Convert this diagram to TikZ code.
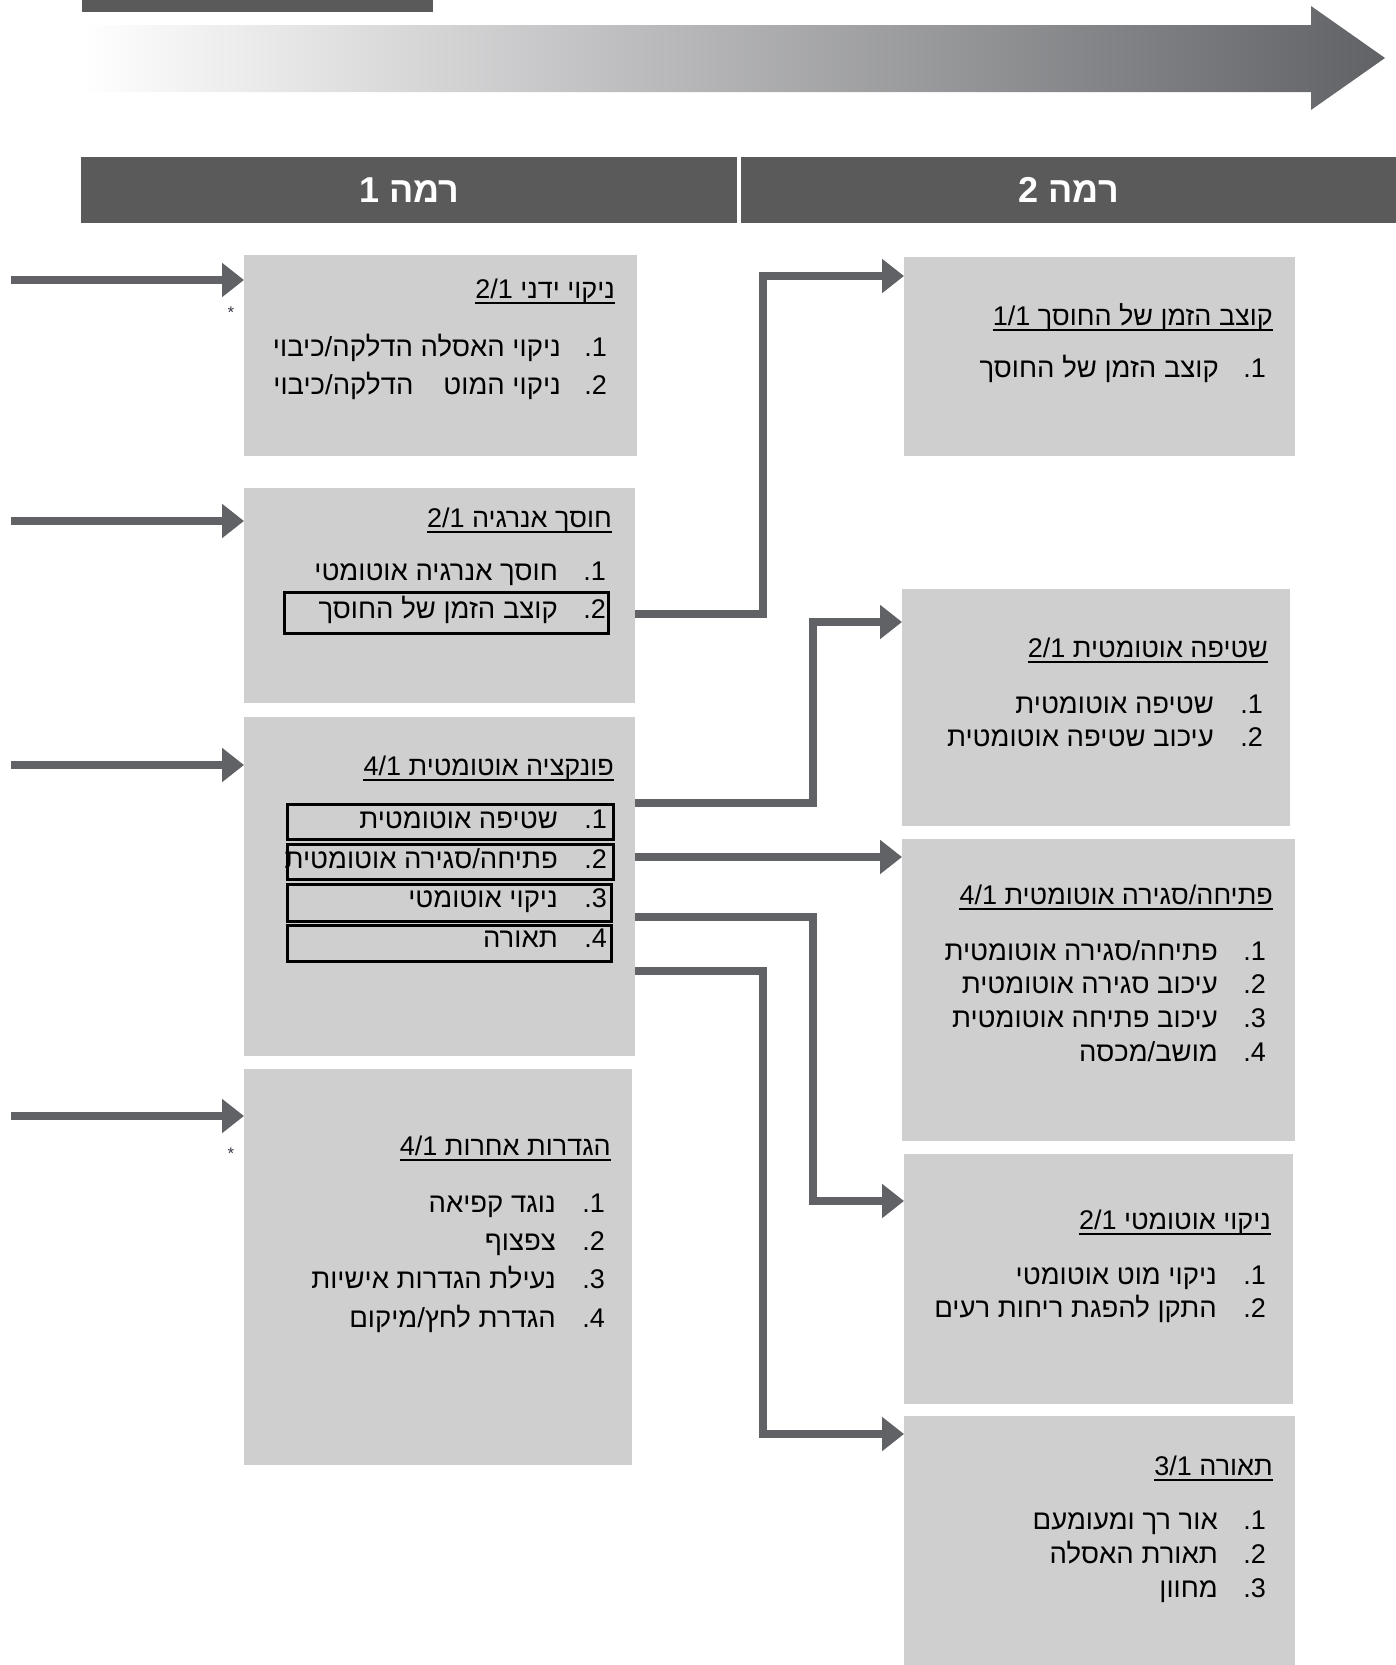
\documentclass[tikz,border=0pt]{standalone}
\usepackage{fontspec}
\setmainfont{Liberation Sans}
\newfontfamily\hb[Script=Hebrew]{Liberation Sans}
\TeXXeTstate=1
\usetikzlibrary{arrows.meta}
\definecolor{boxgray}{HTML}{D0CFD0}
\definecolor{linegray}{HTML}{616266}
\definecolor{headgray}{HTML}{5A5A5A}
\definecolor{midgray}{HTML}{C4C5C8}
\definecolor{stargray}{HTML}{3A3A4A}
\newcommand\hnum[1]{\beginL#1\endL}
\begin{document}
\begin{tikzpicture}[x=1pt,y=-1pt,
  box/.style={fill=boxgray, inner sep=0pt, anchor=north west},
  hdrbar/.style={fill=headgray, inner sep=0pt, anchor=north west, text=white, font=\hb\bfseries\fontsize{36}{40}\selectfont},
  conn/.style={draw=linegray, line width=7.5pt, -{Triangle[width=33pt,length=22pt]}, line join=miter},
  itm/.style={anchor=base east, inner sep=0pt, font=\hb\fontsize{27.5}{30}\selectfont},
  num/.style={anchor=base east, inner sep=0pt, font=\fontsize{27}{30}\selectfont},
  hd/.style={anchor=base east, inner sep=0pt, font=\hb\fontsize{27}{30}\selectfont},
  itembox/.style={draw=black, line width=2.5pt, inner sep=0pt, anchor=north west},
  uline/.style={line width=1.8pt},
  star/.style={inner sep=0pt, text=stargray, font=\fontsize{17}{17}\selectfont}
]
\useasboundingbox (0,0) rectangle (1396,1665);

% top bar and gradient arrow
\fill[headgray] (82,0) rectangle (433,12);
\shade[left color=white, middle color=midgray, right color=linegray]
  (82,25) -- (1311,25) -- (1311,6) -- (1385,58) -- (1311,110) -- (1311,92) -- (82,92) -- cycle;

% level headers
\node[hdrbar, minimum width=656pt, minimum height=66pt] (lvl1) at (81,157) {\beginR רמה 1\endR};
\node[hdrbar, minimum width=655pt, minimum height=66pt] (lvl2) at (741,157) {\beginR רמה 2\endR};

% left boxes
\node[box, minimum width=393pt, minimum height=201pt] (boxA) at (244,255) {};
\node[box, minimum width=391pt, minimum height=215pt] (boxB) at (244,488) {};
\node[box, minimum width=391pt, minimum height=339pt] (boxC) at (244,717) {};
\node[box, minimum width=388pt, minimum height=396pt] (boxD) at (244,1069) {};
% right boxes
\node[box, minimum width=391pt, minimum height=199pt] (boxE) at (904,257) {};
\node[box, minimum width=388pt, minimum height=237pt] (boxF) at (902,589) {};
\node[box, minimum width=393pt, minimum height=302pt] (boxG) at (902,839) {};
\node[box, minimum width=389pt, minimum height=250pt] (boxH) at (904,1154) {};
\node[box, minimum width=391pt, minimum height=249pt] (boxI) at (904,1416) {};

% incoming arrows on the left
\coordinate (inA) at (11,280);
\coordinate (inB) at (11,521);
\coordinate (inC) at (11,765);
\coordinate (inD) at (11,1116);
\draw[conn] (inA) -- (boxA.west |- inA);
\draw[conn] (inB) -- (boxB.west |- inB);
\draw[conn] (inC) -- (boxC.west |- inC);
\draw[conn] (inD) -- (boxD.west |- inD);
\node[star] (starA) at (231,313) {*};
\node[star] (starD) at (231,1154) {*};

% connectors between levels
\draw[conn] (boxB.east |- 0,614) -| (763,276) -- (boxE.west |- 0,276);
\draw[conn] (boxC.east |- 0,803) -| (813,622) -- (boxF.west |- 0,622);
\draw[conn] (boxC.east |- 0,857) -- (boxG.west |- 0,857);
\draw[conn] (boxC.east |- 0,917) -| (813,1201) -- (boxH.west |- 0,1201);
\draw[conn] (boxC.east |- 0,971) -| (763,1434) -- (boxI.west |- 0,1434);

% ---- Box A
\node[hd] (hA) at (615,298) {\beginR ניקוי ידני \hnum{2/1}\endR};
\draw[uline] ([yshift=-5pt]hA.base west) -- ([yshift=-5pt]hA.base east);
\node[num] (nA1) at (607,356) {.1};
\node[itm] (tA1) at (561,356) {\beginR ניקוי האסלה הדלקה/כיבוי\endR};
\node[num] (nA2) at (607,394) {.2};
\node[itm] (tA2) at (561,394) {\beginR ניקוי המוט\hspace{30pt}הדלקה/כיבוי\endR};

% ---- Box B
\node[hd] (hB) at (612,527) {\beginR חוסך אנרגיה \hnum{2/1}\endR};
\draw[uline] ([yshift=-5pt]hB.base west) -- ([yshift=-5pt]hB.base east);
\node[num] (nB1) at (606,580) {.1};
\node[itm] (tB1) at (558,580) {\beginR חוסך אנרגיה אוטומטי\endR};
\node[num] (nB2) at (606,618) {.2};
\node[itm] (tB2) at (558,618) {\beginR קוצב הזמן של החוסך\endR};
\node[itembox, minimum width=324pt, minimum height=41pt] (bB2) at (283,591) {};

% ---- Box C
\node[hd] (hC) at (614,775) {\beginR פונקציה אוטומטית \hnum{4/1}\endR};
\draw[uline] ([yshift=-5pt]hC.base west) -- ([yshift=-5pt]hC.base east);
\node[num] (nC1) at (607,828) {.1};
\node[itm] (tC1) at (558,828) {\beginR שטיפה אוטומטית\endR};
\node[num] (nC2) at (607,868) {.2};
\node[itm] (tC2) at (558,868) {\beginR פתיחה/סגירה אוטומטית\endR};
\node[num] (nC3) at (607,907) {.3};
\node[itm] (tC3) at (558,907) {\beginR ניקוי אוטומטי\endR};
\node[num] (nC4) at (607,947) {.4};
\node[itm] (tC4) at (558,947) {\beginR תאורה\endR};
\node[itembox, minimum width=326pt, minimum height=35pt] (bC1) at (286,803) {};
\node[itembox, minimum width=326pt, minimum height=35pt] (bC2) at (286,843) {};
\node[itembox, minimum width=324pt, minimum height=37pt] (bC3) at (286,883) {};
\node[itembox, minimum width=324pt, minimum height=36pt] (bC4) at (286,924) {};

% ---- Box D
\node[hd] (hD) at (611,1155) {\beginR הגדרות אחרות \hnum{4/1}\endR};
\draw[uline] ([yshift=-5pt]hD.base west) -- ([yshift=-5pt]hD.base east);
\node[num] (nD1) at (605,1212) {.1};
\node[itm] (tD1) at (556,1212) {\beginR נוגד קפיאה\endR};
\node[num] (nD2) at (605,1250) {.2};
\node[itm] (tD2) at (556,1250) {\beginR צפצוף\endR};
\node[num] (nD3) at (605,1288) {.3};
\node[itm] (tD3) at (556,1288) {\beginR נעילת הגדרות אישיות\endR};
\node[num] (nD4) at (605,1327) {.4};
\node[itm] (tD4) at (556,1327) {\beginR הגדרת לחץ/מיקום\endR};

% ---- Box E
\node[hd] (hE) at (1273,325) {\beginR קוצב הזמן של החוסך \hnum{1/1}\endR};
\draw[uline] ([yshift=-5pt]hE.base west) -- ([yshift=-5pt]hE.base east);
\node[num] (nE1) at (1266,377) {.1};
\node[itm] (tE1) at (1219,377) {\beginR קוצב הזמן של החוסך\endR};

% ---- Box F
\node[hd] (hF) at (1268,657) {\beginR שטיפה אוטומטית \hnum{2/1}\endR};
\draw[uline] ([yshift=-5pt]hF.base west) -- ([yshift=-5pt]hF.base east);
\node[num] (nF1) at (1263,713) {.1};
\node[itm] (tF1) at (1214,713) {\beginR שטיפה אוטומטית\endR};
\node[num] (nF2) at (1263,746) {.2};
\node[itm] (tF2) at (1214,746) {\beginR עיכוב שטיפה אוטומטית\endR};

% ---- Box G
\node[hd] (hG) at (1273,904) {\beginR פתיחה/סגירה אוטומטית \hnum{4/1}\endR};
\draw[uline] ([yshift=-5pt]hG.base west) -- ([yshift=-5pt]hG.base east);
\node[num] (nG1) at (1266,960) {.1};
\node[itm] (tG1) at (1218,960) {\beginR פתיחה/סגירה אוטומטית\endR};
\node[num] (nG2) at (1266,993) {.2};
\node[itm] (tG2) at (1218,993) {\beginR עיכוב סגירה אוטומטית\endR};
\node[num] (nG3) at (1266,1027) {.3};
\node[itm] (tG3) at (1218,1027) {\beginR עיכוב פתיחה אוטומטית\endR};
\node[num] (nG4) at (1266,1061) {.4};
\node[itm] (tG4) at (1218,1061) {\beginR מושב/מכסה\endR};

% ---- Box H
\node[hd] (hH) at (1271,1229) {\beginR ניקוי אוטומטי \hnum{2/1}\endR};
\draw[uline] ([yshift=-5pt]hH.base west) -- ([yshift=-5pt]hH.base east);
\node[num] (nH1) at (1266,1284) {.1};
\node[itm] (tH1) at (1217,1284) {\beginR ניקוי מוט אוטומטי\endR};
\node[num] (nH2) at (1266,1317) {.2};
\node[itm] (tH2) at (1217,1317) {\beginR התקן להפגת ריחות רעים\endR};

% ---- Box I
\node[hd] (hI) at (1273,1475) {\beginR תאורה \hnum{3/1}\endR};
\draw[uline] ([yshift=-5pt]hI.base west) -- ([yshift=-5pt]hI.base east);
\node[num] (nI1) at (1266,1529) {.1};
\node[itm] (tI1) at (1218,1529) {\beginR אור רך ומעומעם\endR};
\node[num] (nI2) at (1266,1563) {.2};
\node[itm] (tI2) at (1218,1563) {\beginR תאורת האסלה\endR};
\node[num] (nI3) at (1266,1597) {.3};
\node[itm] (tI3) at (1218,1597) {\beginR מחוון\endR};
\end{tikzpicture}
\end{document}
